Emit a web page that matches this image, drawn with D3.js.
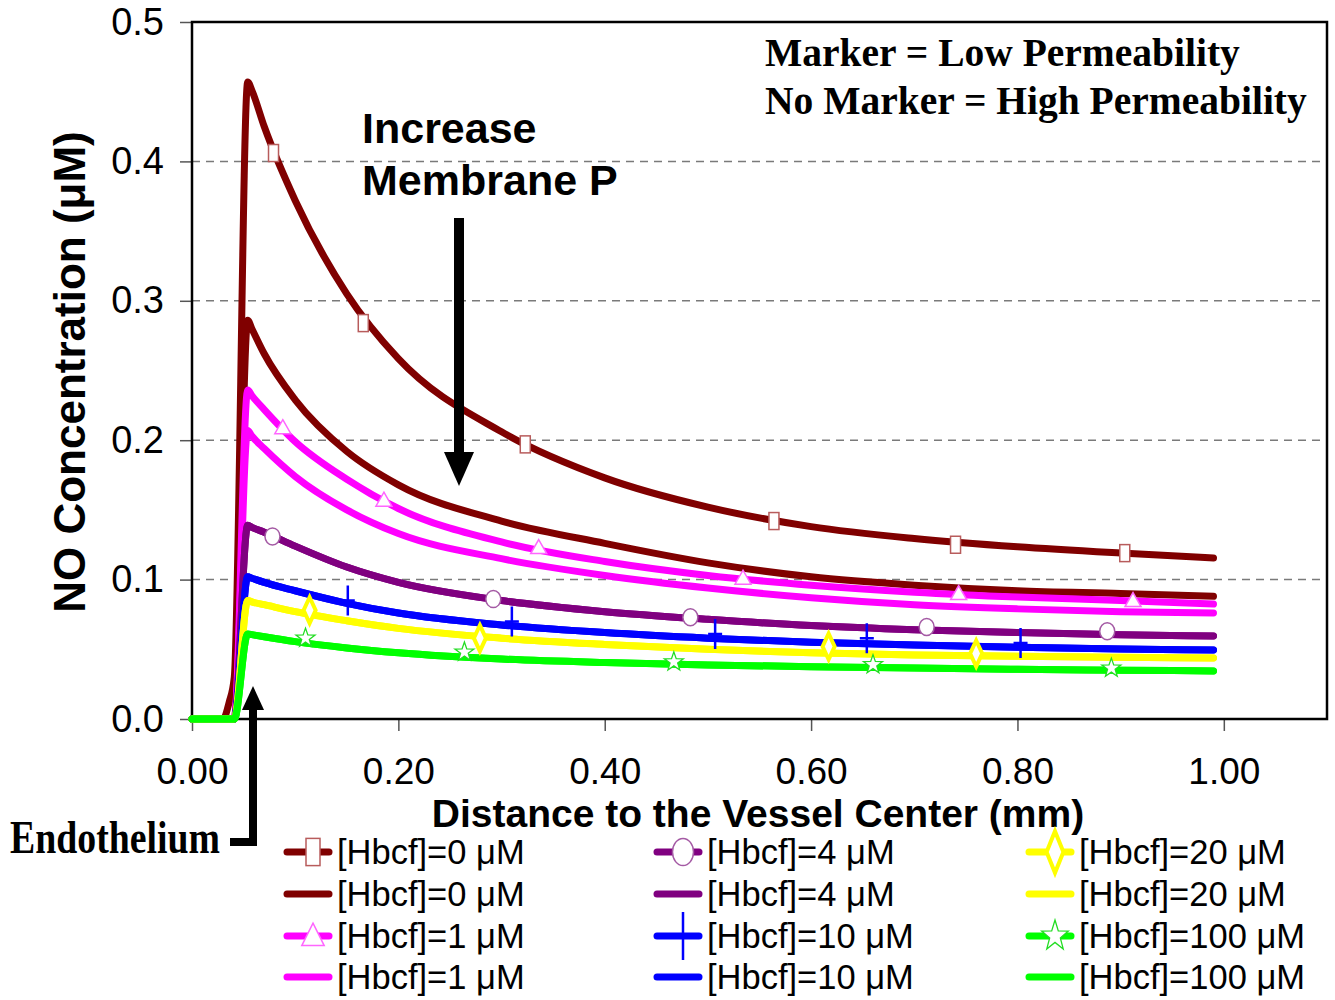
<!DOCTYPE html>
<html>
<head>
<meta charset="utf-8">
<script src="https://cdn.jsdelivr.net/npm/d3@7"></script>
<style>
  body { margin: 0; background: #fff; }
  svg { display: block; }
</style>
</head>
<body>
<div id="chart"></div>
<script>
// Canvas size
var svgWidth = 1335;
var svgHeight = 1000;

// Plot area inside the canvas
var margin = { top: 22, right: 8, bottom: 281, left: 192 };
var width = svgWidth - margin.left - margin.right;
var height = svgHeight - margin.top - margin.bottom;

// ---- Data ----
// distance to vessel center (mm), shared by every curve
var distance = [0, 0.030, 0.036, 0.041, 0.054, 0.058, 0.07, 0.1, 0.15, 0.2, 0.3, 0.4, 0.5, 0.6, 0.7, 0.8, 0.9, 0.99];

// NO concentration (uM), low permeability (with markers)
var hb0Low   = [0, 0, 0.012, 0.03, 0.457, 0.451, 0.425, 0.372, 0.305, 0.2585, 0.206, 0.173, 0.152, 0.138, 0.1295, 0.1235, 0.119, 0.1155];
var hb1Low   = [0, 0, 0, 0, 0.236, 0.232, 0.222, 0.199, 0.172, 0.151, 0.127, 0.113, 0.103, 0.096, 0.091, 0.0875, 0.085, 0.0825];
var hb4Low   = [0, 0, 0, 0, 0.139, 0.1375, 0.134, 0.124, 0.109, 0.098, 0.085, 0.077, 0.0715, 0.067, 0.064, 0.062, 0.0605, 0.0595];
var hb10Low  = [0, 0, 0, 0, 0.102, 0.101, 0.098, 0.092, 0.083, 0.076, 0.0675, 0.062, 0.058, 0.055, 0.053, 0.0515, 0.0503, 0.0495];
var hb20Low  = [0, 0, 0, 0, 0.085, 0.084, 0.082, 0.077, 0.0705, 0.065, 0.058, 0.0535, 0.050, 0.0475, 0.046, 0.045, 0.0443, 0.0438];
var hb100Low = [0, 0, 0, 0, 0.061, 0.0605, 0.059, 0.0555, 0.051, 0.0475, 0.043, 0.0405, 0.0388, 0.0375, 0.0365, 0.0357, 0.035, 0.0345];

// NO concentration (uM), high permeability (no markers)
var hb0High   = [0, 0, 0, 0, 0.286, 0.280, 0.262, 0.229, 0.192, 0.168, 0.142, 0.126, 0.112, 0.102, 0.096, 0.092, 0.090, 0.088];
var hb1High   = [0, 0, 0, 0, 0.207, 0.203, 0.194, 0.174, 0.150, 0.133, 0.115, 0.103, 0.094, 0.087, 0.082, 0.079, 0.077, 0.076];
var hb4High   = [0, 0, 0, 0, 0.139, 0.1375, 0.134, 0.124, 0.109, 0.098, 0.085, 0.077, 0.0715, 0.067, 0.064, 0.062, 0.0605, 0.0595];
var hb10High  = [0, 0, 0, 0, 0.102, 0.101, 0.098, 0.092, 0.083, 0.076, 0.0675, 0.062, 0.058, 0.055, 0.053, 0.0515, 0.0503, 0.0495];
var hb20High  = [0, 0, 0, 0, 0.085, 0.084, 0.082, 0.077, 0.0705, 0.065, 0.058, 0.0535, 0.050, 0.0475, 0.046, 0.045, 0.0443, 0.0438];
var hb100High = [0, 0, 0, 0, 0.061, 0.0605, 0.059, 0.0555, 0.051, 0.0475, 0.043, 0.0405, 0.0388, 0.0375, 0.0365, 0.0357, 0.035, 0.0345];

// sparse marker points of the low permeability curves
var hb0MarkX = [0.079, 0.166, 0.323, 0.564, 0.740, 0.904];
var hb0MarkY = [0.406, 0.284, 0.197, 0.142, 0.125, 0.119];
var hb1MarkX = [0.088, 0.186, 0.336, 0.534, 0.743, 0.912];
var hb1MarkY = [0.209, 0.157, 0.123, 0.101, 0.090, 0.085];
var hb4MarkX = [0.078, 0.292, 0.483, 0.712, 0.887];
var hb4MarkY = [0.131, 0.086, 0.073, 0.066, 0.063];
var hb10MarkX = [0.151, 0.310, 0.507, 0.654, 0.803];
var hb10MarkY = [0.085, 0.070, 0.061, 0.058, 0.0545];
var hb20MarkX = [0.114, 0.279, 0.617, 0.760];
var hb20MarkY = [0.078, 0.058, 0.052, 0.047];
var hb100MarkX = [0.110, 0.264, 0.467, 0.660, 0.891];
var hb100MarkY = [0.058, 0.048, 0.041, 0.039, 0.0365];

// Hb levels and tick labels
var hbLevels = [0, 1, 4, 10, 20, 100];
var xTicks = [0, 0.2, 0.4, 0.6, 0.8, 1.0];
var yTicks = [0, 0.1, 0.2, 0.3, 0.4, 0.5];

// style per Hb level
var colors = ["#800000", "#ff00ff", "#800080", "#0000ff", "#ffff00", "#00ff00"];
var markerStroke = ["#b85c5c", "#ff66ff", "#a45aa4", "#0000ff", "#ffff00", "#22dd22"];
var markerTypes = ["square", "triangle", "circle", "plus", "diamond", "star"];

var lowSeries = [hb0Low, hb1Low, hb4Low, hb10Low, hb20Low, hb100Low];
var highSeries = [hb0High, hb1High, hb4High, hb10High, hb20High, hb100High];
var markX = [hb0MarkX, hb1MarkX, hb4MarkX, hb10MarkX, hb20MarkX, hb100MarkX];
var markY = [hb0MarkY, hb1MarkY, hb4MarkY, hb10MarkY, hb20MarkY, hb100MarkY];

// Build the svg
var svg = d3.select("#chart")
  .append("svg")
  .attr("width", svgWidth)
  .attr("height", svgHeight)
  .style("background", "#fff");

var chartGroup = svg.append("g")
  .attr("transform", `translate(${margin.left}, ${margin.top})`);

// Scales
var xScale = d3.scaleLinear().domain([0, 1.1]).range([0, width]);
var yScale = d3.scaleLinear().domain([0, 0.5]).range([height, 0]);

// Dashed gridlines
chartGroup.selectAll(".grid")
  .data(yTicks.filter(d => d > 0 && d < 0.5))
  .enter()
  .append("line")
  .attr("x1", 0)
  .attr("x2", width)
  .attr("y1", d => yScale(d))
  .attr("y2", d => yScale(d))
  .attr("stroke", "#7a7a7a")
  .attr("stroke-width", 1.5)
  .attr("stroke-dasharray", "8,6");

// Axes
var bottomAxis = d3.axisBottom(xScale)
  .tickValues(xTicks)
  .tickFormat(d3.format(".2f"))
  .tickSize(12)
  .tickPadding(27);

var leftAxis = d3.axisLeft(yScale)
  .tickValues(yTicks)
  .tickFormat(d3.format(".1f"))
  .tickSize(12)
  .tickPadding(16);

var xAxisG = chartGroup.append("g")
  .attr("transform", `translate(0, ${height})`)
  .call(bottomAxis);

var yAxisG = chartGroup.append("g")
  .call(leftAxis);

[xAxisG, yAxisG].forEach(function (g) {
  g.select(".domain").remove();
  g.selectAll(".tick line").attr("stroke", "#555").attr("stroke-width", 1.5);
  g.selectAll("text")
    .attr("fill", "#000")
    .style("font-family", "Arial, 'Liberation Sans', sans-serif")
    .style("font-size", "37px");
});
yAxisG.selectAll("text").style("font-size", "38px");

// Plot frame
chartGroup.append("rect")
  .attr("x", 0)
  .attr("y", 0)
  .attr("width", width)
  .attr("height", height)
  .attr("fill", "none")
  .attr("stroke", "#000")
  .attr("stroke-width", 2.5);

// Clip for curves
chartGroup.append("clipPath")
  .attr("id", "plotClip")
  .append("rect")
  .attr("x", -4)
  .attr("y", 0)
  .attr("width", width + 4)
  .attr("height", height + 4);

var lineGen = d3.line()
  .x(d => xScale(d[0]))
  .y(d => yScale(d[1]))
  .curve(d3.curveMonotoneX);

var curveGroup = chartGroup.append("g").attr("clip-path", "url(#plotClip)");

// Draw curves in legend order: low then high for each level
hbLevels.forEach(function (hb, i) {
  [lowSeries[i], highSeries[i]].forEach(function (vals) {
    var pts = distance.map((x, k) => [x, vals[k]]);
    curveGroup.append("path")
      .datum(pts)
      .attr("d", lineGen)
      .attr("fill", "none")
      .attr("stroke", colors[i])
      .attr("stroke-width", 7)
      .attr("stroke-linecap", "round")
      .attr("stroke-linejoin", "round");
  });
});

// Marker shapes
function drawMarker(g, type, stroke, sx, sy) {
  if (type === "square") {
    g.append("rect")
      .attr("x", -5 * sx).attr("y", -8.5 * sy)
      .attr("width", 10 * sx).attr("height", 17 * sy)
      .attr("fill", "#fff").attr("stroke", stroke).attr("stroke-width", 1.5);
  } else if (type === "triangle") {
    g.append("path")
      .attr("d", `M0,${-8 * sy}L${8 * sx},${6 * sy}L${-8 * sx},${6 * sy}Z`)
      .attr("fill", "#fff").attr("stroke", stroke).attr("stroke-width", 1.5);
  } else if (type === "circle") {
    g.append("ellipse")
      .attr("rx", 7.5 * sx).attr("ry", 8.5 * sy)
      .attr("fill", "#fff").attr("stroke", stroke).attr("stroke-width", 1.5);
  } else if (type === "plus") {
    g.append("path")
      .attr("d", `M0,${-15 * sy}V${15 * sy}M${-7 * sx},0H${7 * sx}`)
      .attr("fill", "none").attr("stroke", stroke).attr("stroke-width", 2.5);
  } else if (type === "diamond") {
    g.append("path")
      .attr("d", `M0,${-13 * sy}L${6 * sx},0L0,${13 * sy}L${-6 * sx},0Z`)
      .attr("fill", "#fff").attr("stroke", stroke).attr("stroke-width", 4)
      .attr("stroke-linejoin", "miter");
  } else if (type === "star") {
    var pts = d3.range(10).map(function (k) {
      var a = -Math.PI / 2 + k * Math.PI / 5;
      var r = k % 2 === 0 ? 10 : 4;
      return [Math.cos(a) * r * sx, Math.sin(a) * r * sy];
    });
    g.append("path")
      .attr("d", "M" + pts.join("L") + "Z")
      .attr("fill", "#fff").attr("stroke", stroke).attr("stroke-width", 1.3);
  }
}

// Markers on the low permeability curves
hbLevels.forEach(function (hb, i) {
  markX[i].forEach(function (x, k) {
    var g = chartGroup.append("g")
      .attr("transform", `translate(${xScale(x)}, ${yScale(markY[i][k])})`);
    drawMarker(g, markerTypes[i], markerStroke[i], 1, 1);
  });
});

// Axis titles
chartGroup.append("text")
  .attr("transform", "rotate(-90)")
  .attr("x", -350)
  .attr("y", -107)
  .attr("text-anchor", "middle")
  .style("font-family", "Arial, 'Liberation Sans', sans-serif")
  .style("font-size", "44px")
  .style("font-weight", "bold")
  .text("NO Concentration (μM)");

svg.append("text")
  .attr("x", 758)
  .attr("y", 827)
  .attr("text-anchor", "middle")
  .style("font-family", "Arial, 'Liberation Sans', sans-serif")
  .style("font-size", "39px")
  .style("font-weight", "bold")
  .text("Distance to the Vessel Center (mm)");

// Note in the top right corner
var noteLines = ["Marker = Low Permeability", "No Marker = High Permeability"];
svg.selectAll(".note")
  .data(noteLines)
  .enter()
  .append("text")
  .attr("x", 765)
  .attr("y", (d, i) => 66 + i * 48)
  .style("font-family", "'Times New Roman', 'Liberation Serif', serif")
  .style("font-size", "39.5px")
  .style("font-weight", "bold")
  .text(d => d);

// "Increase Membrane P" with its arrow
svg.selectAll(".incr")
  .data(["Increase", "Membrane P"])
  .enter()
  .append("text")
  .attr("x", 362)
  .attr("y", (d, i) => 143 + i * 52)
  .style("font-family", "Arial, 'Liberation Sans', sans-serif")
  .style("font-size", "43px")
  .style("font-weight", "bold")
  .text(d => d);

svg.append("line")
  .attr("x1", 459).attr("x2", 459)
  .attr("y1", 218).attr("y2", 455)
  .attr("stroke", "#000").attr("stroke-width", 10);
svg.append("path")
  .attr("d", "M444,452L474,452L459,486Z")
  .attr("fill", "#000");

// "Endothelium" with its elbow arrow
svg.append("text")
  .attr("x", 10)
  .attr("y", 853)
  .attr("textLength", 210)
  .attr("lengthAdjust", "spacingAndGlyphs")
  .style("font-family", "'Times New Roman', 'Liberation Serif', serif")
  .style("font-size", "47px")
  .style("font-weight", "bold")
  .text("Endothelium");

svg.append("path")
  .attr("d", "M230,842H253V705")
  .attr("fill", "none")
  .attr("stroke", "#000")
  .attr("stroke-width", 8);
svg.append("path")
  .attr("d", "M242,710L264,710L253,686Z")
  .attr("fill", "#000");

// Legend: 3 columns x 4 rows, low/high pairs
var legendCols = [285, 655, 1027];
var legendRowY = [852, 894, 936, 977];

hbLevels.forEach(function (hb, i) {
  ["low", "high"].forEach(function (perm, j) {
    var idx = i * 2 + j;
    var col = Math.floor(idx / 4);
    var row = idx % 4;
    var lg = svg.append("g")
      .attr("transform", `translate(${legendCols[col]}, ${legendRowY[row]})`);
    lg.append("line")
      .attr("x1", 2).attr("x2", 44)
      .attr("stroke", colors[i])
      .attr("stroke-width", 7)
      .attr("stroke-linecap", "round");
    if (perm === "low") {
      var mg = lg.append("g").attr("transform", "translate(28, 0)");
      drawMarker(mg, markerTypes[i], markerStroke[i], 1.4, 1.6);
    }
    lg.append("text")
      .attr("x", 52)
      .attr("y", 12)
      .style("font-family", "Arial, 'Liberation Sans', sans-serif")
      .style("font-size", "34.5px")
      .text(`[Hbcf]=${hb} μM`);
  });
});
</script>
</body>
</html>
